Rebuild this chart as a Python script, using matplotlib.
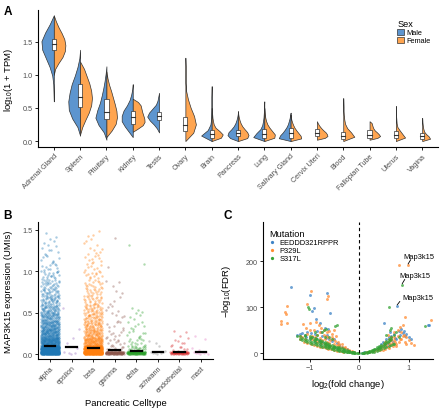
import numpy as np
import matplotlib
matplotlib.use("Agg")
import matplotlib.pyplot as plt
from matplotlib.patches import Rectangle, Patch

plt.rcParams['font.family'] = ['Liberation Sans', 'DejaVu Sans']
plt.rcParams['mathtext.fontset'] = 'custom'
plt.rcParams['mathtext.rm'] = 'Liberation Sans'
plt.rcParams['mathtext.it'] = 'Liberation Sans:italic'

# ---------------- Panel A data ----------------
tissues = ["Adrenal Gland", "Spleen", "Pituitary", "Kidney", "Testis", "Ovary", "Brain",
           "Pancreas", "Lung", "Salivary Gland", "Cervix Uteri", "Blood", "Fallopian Tube",
           "Uterus", "Vagina"]
# violin extents (log10(1+TPM)); None = no samples
male_lo = [0.60, 0.08, 0.02, 0.06, 0.13, None, 0.00, 0.00, 0.00, 0.00, None, None, None, None, None]
male_hi = [1.90, 1.38, 1.13, 0.86, 0.73, None, 0.83, 0.45, 0.60, 0.43, None, None, None, None, None]
# half-widths at 11 evenly spaced levels between lo and hi
male_w = [
    [0.0, 0.01, 0.02, 0.06, 0.16, 0.30, 0.44, 0.47, 0.33, 0.15, 0.0],
    [0.0, 0.10, 0.30, 0.43, 0.45, 0.40, 0.32, 0.20, 0.10, 0.03, 0.0],
    [0.0, 0.10, 0.30, 0.42, 0.35, 0.25, 0.18, 0.12, 0.07, 0.03, 0.0],
    [0.0, 0.15, 0.30, 0.42, 0.42, 0.35, 0.22, 0.12, 0.06, 0.02, 0.0],
    [0.0, 0.08, 0.20, 0.35, 0.45, 0.38, 0.25, 0.12, 0.06, 0.03, 0.0],
    None,
    [0.0, 0.40, 0.15, 0.05, 0.02, 0.015, 0.01, 0.01, 0.01, 0.005, 0.0],
    [0.0, 0.30, 0.40, 0.36, 0.25, 0.16, 0.10, 0.06, 0.03, 0.01, 0.0],
    [0.0, 0.42, 0.30, 0.15, 0.08, 0.05, 0.03, 0.02, 0.01, 0.01, 0.0],
    [0.0, 0.45, 0.40, 0.30, 0.22, 0.15, 0.10, 0.07, 0.04, 0.02, 0.0],
    None, None, None, None, None,
]
female_lo = [1.00, 0.10, 0.06, 0.14, None, 0.00, 0.00, 0.00, 0.00, 0.00, 0.02, 0.00, 0.02, 0.00, 0.00]
female_hi = [1.90, 1.20, 1.05, 0.64, None, 1.26, 0.50, 0.45, 0.50, 0.40, 0.30, 0.65, 0.30, 0.53, 0.35]
female_w = [
    [0.0, 0.05, 0.18, 0.33, 0.42, 0.44, 0.40, 0.30, 0.18, 0.08, 0.0],
    [0.0, 0.08, 0.20, 0.33, 0.42, 0.45, 0.42, 0.35, 0.25, 0.15, 0.0],
    [0.0, 0.20, 0.35, 0.40, 0.38, 0.32, 0.25, 0.18, 0.10, 0.04, 0.0],
    [0.0, 0.20, 0.38, 0.45, 0.44, 0.40, 0.36, 0.33, 0.30, 0.20, 0.0],
    None,
    [0.0, 0.30, 0.40, 0.33, 0.20, 0.10, 0.03, 0.01, 0.01, 0.01, 0.0],
    [0.0, 0.35, 0.42, 0.30, 0.15, 0.08, 0.05, 0.03, 0.02, 0.01, 0.0],
    [0.0, 0.35, 0.40, 0.35, 0.25, 0.16, 0.10, 0.06, 0.03, 0.01, 0.0],
    [0.0, 0.38, 0.40, 0.30, 0.20, 0.12, 0.07, 0.04, 0.02, 0.01, 0.0],
    [0.0, 0.40, 0.38, 0.30, 0.22, 0.15, 0.10, 0.06, 0.03, 0.01, 0.0],
    [0.0, 0.30, 0.40, 0.38, 0.33, 0.25, 0.18, 0.12, 0.07, 0.03, 0.0],
    [0.0, 0.42, 0.30, 0.15, 0.07, 0.04, 0.02, 0.01, 0.01, 0.005, 0.0],
    [0.0, 0.30, 0.40, 0.35, 0.28, 0.20, 0.15, 0.12, 0.10, 0.08, 0.0],
    [0.0, 0.35, 0.25, 0.15, 0.06, 0.03, 0.02, 0.01, 0.01, 0.005, 0.0],
    [0.0, 0.30, 0.25, 0.15, 0.08, 0.05, 0.03, 0.02, 0.01, 0.005, 0.0],
]
box_q1 = [1.38, 0.52, 0.33, 0.26, 0.32, 0.15, 0.04, 0.08, 0.05, 0.05, 0.07, 0.03, 0.04, 0.05, 0.03]
box_med = [1.46, 0.67, 0.44, 0.36, 0.38, 0.25, 0.10, 0.12, 0.10, 0.12, 0.12, 0.08, 0.09, 0.09, 0.07]
box_q3 = [1.55, 0.87, 0.63, 0.46, 0.44, 0.37, 0.17, 0.16, 0.18, 0.20, 0.18, 0.14, 0.16, 0.15, 0.12]

# ---------------- Panel B data ----------------
celltypes = ["alpha", "epsilon", "beta", "gamma", "delta", "schwann", "endothelial", "mast"]
umi_bin_edges = [0, 0.03, 0.1, 0.2, 0.3, 0.4, 0.5, 0.6, 0.7, 0.8, 0.9, 1.0, 1.1, 1.2, 1.3, 1.4, 1.5]
umi_counts = [
    [260, 300, 190, 130, 100, 75, 55, 42, 32, 25, 18, 11, 7, 6, 4, 2],  # alpha
    [4, 1, 2, 0, 1, 0, 1, 0, 0, 0, 0, 0, 0, 0, 0, 0],                   # epsilon
    [260, 260, 110, 70, 50, 42, 32, 24, 19, 15, 12, 9, 8, 6, 4, 3],     # beta
    [120, 12, 10, 8, 6, 5, 4, 3, 2, 3, 0, 1, 0, 0, 1, 0],               # gamma
    [120, 25, 12, 8, 6, 4, 3, 0, 0, 0, 0, 1, 0, 0, 1, 0],               # delta
    [6, 2, 2, 0, 0, 0, 0, 0, 0, 0, 0, 0, 0, 0, 0, 0],                   # schwann
    [60, 8, 6, 3, 0, 0, 0, 0, 0, 0, 0, 0, 0, 0, 0, 0],                  # endothelial
    [8, 2, 1, 1, 0, 0, 0, 0, 0, 0, 0, 0, 0, 0, 0, 0],                   # mast
]
umi_mean = [0.10, 0.085, 0.075, 0.05, 0.04, 0.03, 0.025, 0.025]
cell_colors = ["#1f77b4", "#9467bd", "#ff7f0e", "#8c564b", "#2ca02c", "#7f7f7f", "#d62728", "#e377c2"]

# ---------------- Panel C data ----------------
mutations = ["EEDDD321RPPR", "P329L", "S317L"]
mut_colors = ["#3f84c6", "#ff8c33", "#36a336"]
eed_x = [-1.38, -1.0, -0.65, -0.92, -0.95, -0.58, -0.87, -0.8, -1.25, -1.2, -1.15, -1.1, -1.05, -0.98,
         -0.9, -0.85, -0.7, -0.62, -0.75, -0.68, -0.6, -0.55, -0.5, -0.45, -0.4, -0.35, -0.3, -0.25,
         -0.2, -0.15, -0.1, -0.95, -0.88, -0.82, -0.78,
         -1.0, -0.9, -0.8, -0.7, -0.6, -0.5, -0.45, -0.75, -0.65, -1.08,
         0.05, 0.1, 0.15, 0.2, 0.25, 0.3, 0.35, 0.4, 0.45, 0.48, 0.5, 0.55, 0.6, 0.65, 0.7, 0.77,
         0.8, 0.85, 0.88, 0.92, 0.95, 1.0, 1.05, 1.38, 1.42, 0.75, 0.68,
         0.55, 0.6, 0.65, 0.72, 0.82, 0.9, 0.62, 0.58]
eed_y = [143, 126, 130, 97, 92, 87, 73, 65, 40, 41, 43, 40, 45, 44,
         42, 48, 55, 52, 38, 32, 30, 26, 30, 22, 18, 14, 11, 8,
         5, 3, 2, 35, 33, 28, 45,
         30, 25, 20, 18, 15, 12, 10, 25, 40, 34,
         1, 2, 2, 3, 5, 6, 9, 14, 20, 25, 65, 30, 35, 38, 42, 102,
         48, 52, 44, 38, 42, 35, 30, 60, 62, 30, 25,
         15, 20, 28, 32, 40, 48, 45, 22]
p329_x = [-1.45, -1.5, -1.48, -1.57, -1.58, -1.45, -1.05, -0.97, -0.65, -0.63, -1.13, -1.0, -0.88,
          -0.82, -0.78, -0.72, -0.66, -0.6, -0.55, -0.5, -0.47, -0.92, -1.05, -1.15, -1.1, -0.95,
          -0.85, -0.8, -0.75, -0.7, -0.65, -0.6, -0.58, -0.5, -0.45, -0.42, -0.4, -0.35, -0.3, -0.28,
          -0.25, -0.2, -0.15, -0.1, -0.9, -0.95, -1.0, -1.2, -0.55, -0.35,
          -1.2, -1.12, -1.05, -0.98, -0.92, -0.86, -0.8, -0.74, -0.68, -0.62, -0.56, -0.5, -0.44,
          -0.38, -0.32, -0.9, -0.85, -0.78, -0.7, -0.65, -0.62, -0.52, -0.48, -0.4, -0.72, -0.8,
          -1.0, -1.08, -0.68, -0.58,
          0.8, 0.99, 0.93, 0.88, 0.82, 0.78, 0.85, 0.9, 0.95, 1.0, 1.05, 1.1, 1.45, 0.7, 0.65, 0.6,
          0.55, 0.5, 0.45, 0.4, 0.35, 0.3, 0.25, 0.2, 0.15, 0.72, 0.68, 0.75, 0.62, 0.58, 0.52,
          0.85, 0.92,
          0.45, 0.5, 0.55, 0.6, 0.65, 0.7, 0.75, 0.8, 0.62, 0.58, 0.52, 0.48, 0.42, 0.66, 0.7,
          0.78, 0.82, 0.88, 0.95, 0.6]
p329_y = [103, 90, 84, 70, 64, 65, 107, 135, 118, 124, 63, 65, 68,
          60, 55, 50, 45, 48, 42, 50, 38, 50, 42, 35, 30, 38,
          40, 32, 28, 30, 25, 22, 28, 20, 18, 24, 15, 12, 10, 14,
          8, 6, 4, 3, 28, 30, 35, 38, 35, 20,
          30, 25, 22, 20, 18, 16, 14, 12, 11, 9, 8, 7, 5,
          4, 3, 35, 25, 22, 20, 18, 35, 30, 26, 20, 40, 45,
          50, 55, 38, 15,
          191, 191, 78, 60, 56, 50, 45, 40, 35, 28, 22, 18, 72, 35, 28, 22,
          18, 14, 10, 8, 6, 5, 4, 3, 2, 25, 15, 20, 30, 40, 25,
          30, 25,
          15, 20, 25, 30, 35, 28, 15, 25, 18, 12, 9, 7, 6, 22, 45,
          38, 30, 36, 20, 10]
s317_x = [-1.25, -1.2, -1.15, -1.1, -1.05, -1.0, -0.98, -0.95, -0.92, -0.9, -0.88, -0.85, -0.82, -0.8,
          -0.78, -0.75, -0.72, -0.7, -0.68, -0.65, -0.62, -0.6, -0.58, -0.55, -0.52, -0.5, -0.48,
          -0.45, -0.42, -0.4, -0.38, -0.35, -0.32, -0.3, -0.28, -0.25, -0.22, -0.2, -0.18, -0.15,
          -0.12, -0.1, -0.08, -0.05, -0.03, 0.0,
          -1.1, -1.0, -0.9, -0.8, -0.7, -0.6, -0.5, -0.4, -0.3, -0.2,
          -1.2, -1.15, -1.1, -1.05, -1.0, -0.95, -0.9, -0.85, -0.8, -0.75, -0.7, -0.65, -0.6, -0.55,
          -0.5, -0.45, -0.4, -0.35, -0.3, -0.25, -0.2, -0.15, -0.1,
          -1.1, -1.0, -0.95, -0.9, -0.85, -0.8, -0.75, -0.7, -0.65, -0.6, -0.55, -0.5, -0.45, -0.4,
          -0.35, -0.3, -0.25, -0.2, -0.15, -0.1,
          -1.03, -1.01, -0.72, -0.68, -0.75, -0.45, -0.48, -0.85, -0.9, -0.6, -0.55, -0.7,
          0.05, 0.08, 0.1, 0.12, 0.15, 0.18, 0.2, 0.22, 0.25, 0.28, 0.3, 0.32, 0.35, 0.38, 0.4, 0.42,
          0.45, 0.48, 0.5, 0.52, 0.55, 0.58, 0.6, 0.62, 0.65,
          0.1, 0.15, 0.2, 0.25, 0.3, 0.35, 0.4, 0.45, 0.5, 0.55, 0.6, 0.65, 0.7,
          0.2, 0.25, 0.3, 0.35, 0.4, 0.45, 0.5, 0.55, 0.6, 0.65,
          0.6, 0.87, 1.33, 0.62, 0.65, 0.7, 0.75, 0.8, 0.55, 0.68]
s317_y = [38, 36, 33, 31, 29, 27, 32, 25, 28, 23, 30, 22, 26, 20,
          24, 18, 22, 16, 20, 15, 18, 13, 16, 11, 14, 10, 12,
          8, 10, 7, 9, 5, 7, 4, 5, 3, 4, 2, 3, 1.5,
          2, 1, 1, 0.5, 0.5, 0.3,
          36, 33, 28, 24, 20, 16, 13, 10, 7, 4,
          30, 28, 26, 24, 22, 20, 19, 17, 15, 14, 12, 11, 10, 8,
          7, 6, 5, 4, 3, 2, 1.5, 1, 0.5,
          40, 38, 35, 33, 30, 28, 26, 25, 22, 20, 18, 16, 14, 12,
          10, 8, 6, 5, 3, 2,
          100, 96, 50, 52, 45, 60, 58, 40, 45, 35, 30, 35,
          0.5, 1, 1, 2, 2, 3, 3, 4, 5, 6, 7, 8, 9, 10, 11, 13,
          14, 16, 18, 19, 21, 24, 26, 28, 30,
          0.5, 1, 1.5, 2, 3, 4, 6, 8, 10, 12, 15, 18, 20,
          5, 7, 9, 12, 15, 18, 22, 26, 30, 35,
          100, 148, 58, 50, 55, 40, 45, 35, 40, 20]
label_pts_x = [0.99, 0.87, 0.77]
label_pts_y = [191, 148, 102]
label_txt_x = [0.90, 0.81, 0.87]
label_txt_y = [211, 168, 120]

# ---------------- drawing ----------------
fig = plt.figure(figsize=(4.4, 4.1), dpi=100)
tick_gray = "#4d4d4d"
male_c, female_c = "#5d95cf", "#ffa550"
edge_c = "#333333"
TICK_FS = 5.2
LAB_FS = 6.8


def style(ax):
    for s in ["top", "right"]:
        ax.spines[s].set_visible(False)
    for s in ["left", "bottom"]:
        ax.spines[s].set_linewidth(0.8)
    ax.tick_params(length=2.2, width=0.6, labelsize=TICK_FS, labelcolor=tick_gray, pad=1.5)


def halton(k, base=2):
    f, r = 1.0, 0.0
    while k > 0:
        f /= base
        r += f * (k % base)
        k //= base
    return r


# Panel A
axA = fig.add_axes([0.0864, 0.639, 0.909, 0.334])
style(axA)
for i in range(len(tissues)):
    if male_lo[i] is not None:
        ys = np.linspace(male_lo[i], male_hi[i], len(male_w[i]))
        axA.fill_betweenx(ys, i - np.array(male_w[i]), i, facecolor=male_c, edgecolor=edge_c, lw=0.5)
    if female_lo[i] is not None:
        ys = np.linspace(female_lo[i], female_hi[i], len(female_w[i]))
        axA.fill_betweenx(ys, i, i + np.array(female_w[i]), facecolor=female_c, edgecolor=edge_c, lw=0.5)
    axA.add_patch(Rectangle((i - 0.08, box_q1[i]), 0.16, box_q3[i] - box_q1[i],
                            facecolor="white", edgecolor=edge_c, lw=0.5, zorder=3))
    axA.plot([i - 0.08, i + 0.08], [box_med[i]] * 2, color=edge_c, lw=0.8, zorder=4)
axA.set_xlim(-0.6, 14.6)
axA.set_ylim(-0.09, 1.98)
axA.set_yticks([0.0, 0.5, 1.0, 1.5])
axA.set_yticklabels(["0.0", "0.5", "1.0", "1.5"])
axA.set_xticks(range(len(tissues)))
axA.set_xticklabels(tissues, rotation=45, ha="right", rotation_mode="anchor")
axA.set_ylabel(r"log$_{10}$(1 + TPM)", fontsize=LAB_FS)
axA.yaxis.set_label_coords(-0.058, 0.5)
legA = axA.legend(handles=[Patch(facecolor=male_c, edgecolor=edge_c, lw=0.5, label="Male"),
                           Patch(facecolor=female_c, edgecolor=edge_c, lw=0.5, label="Female")],
                  title="Sex", loc="upper left", bbox_to_anchor=(0.885, 0.97), frameon=False,
                  fontsize=5.3, title_fontsize=6.6, handlelength=0.9, handleheight=0.9,
                  handletextpad=0.4, labelspacing=0.05, borderpad=0.2)
legA._legend_box.align = "left"

# Panel B
axB = fig.add_axes([0.0864, 0.122, 0.398, 0.334])
style(axB)
for ci, name in enumerate(celltypes):
    xs, ys = [], []
    k = 1
    for b in range(len(umi_counts[ci])):
        lo, hi = umi_bin_edges[b], umi_bin_edges[b + 1]
        for j in range(umi_counts[ci][b]):
            ys.append(lo + halton(k, 2) * (hi - lo))
            xs.append(ci + (halton(k, 3) - 0.5) * 0.86)
            k += 1
    axB.scatter(xs, ys, s=3.0, color=cell_colors[ci], alpha=0.38, lw=0)
    axB.plot([ci - 0.25, ci + 0.25], [umi_mean[ci]] * 2, color="black", lw=1.6, zorder=5)
axB.set_xlim(-0.56, 7.56)
axB.set_ylim(-0.06, 1.59)
axB.set_yticks([0.0, 0.5, 1.0, 1.5])
axB.set_yticklabels(["0.0", "0.5", "1.0", "1.5"])
axB.set_xticks(range(len(celltypes)))
axB.set_xticklabels(celltypes, rotation=45, ha="right", rotation_mode="anchor")
axB.set_ylabel("MAP3K15 expression (UMIs)", fontsize=LAB_FS)
axB.yaxis.set_label_coords(-0.143, 0.5)
axB.set_xlabel("Pancreatic Celltype", fontsize=LAB_FS)
axB.xaxis.set_label_coords(0.5, -0.285)

# Panel C
axC = fig.add_axes([0.598, 0.122, 0.386, 0.334])
style(axC)
for xs, ys, c, lab in [(eed_x, eed_y, mut_colors[0], mutations[0]),
                       (p329_x, p329_y, mut_colors[1], mutations[1]),
                       (s317_x, s317_y, mut_colors[2], mutations[2])]:
    axC.scatter(xs, ys, s=4.5, color=c, alpha=0.75, lw=0, label=lab)
axC.axvline(0, color="black", lw=0.8, ls=(0, (3, 2.5)))
for px, py, tx, ty in zip(label_pts_x, label_pts_y, label_txt_x, label_txt_y):
    axC.plot([px, px + 0.05], [py + 3, ty - 8], color="black", lw=0.6)
    axC.text(tx, ty, "Map3k15", fontsize=5.4, ha="left", va="center")
axC.set_xlim(-1.94, 1.49)
axC.set_ylim(-13, 285)
axC.set_xticks([-1, 0, 1])
axC.set_xticklabels(["\u22121", "0", "1"])
axC.set_yticks([0, 100, 200])
axC.set_xlabel(r"log$_{2}$(fold change)", fontsize=LAB_FS)
axC.xaxis.set_label_coords(0.5, -0.13)
axC.set_ylabel("\u2212" + r"log$_{10}$(FDR)", fontsize=LAB_FS)
axC.yaxis.set_label_coords(-0.176, 0.5)
legC = axC.legend(title="Mutation", loc="upper left", bbox_to_anchor=(0.0, 0.99), frameon=False,
                  fontsize=5.4, title_fontsize=6.6, handlelength=0.8, handletextpad=0.6,
                  labelspacing=0.1, borderpad=0.3, markerscale=1.1)
legC._legend_box.align = "left"
for h in legC.legend_handles:
    h.set_alpha(1)

fig.text(0.008, 0.985, "A", fontsize=8.5, fontweight="bold", va="top")
fig.text(0.008, 0.487, "B", fontsize=8.5, fontweight="bold", va="top")
fig.text(0.507, 0.487, "C", fontsize=8.5, fontweight="bold", va="top")

fig.savefig("out.png", dpi=100)
